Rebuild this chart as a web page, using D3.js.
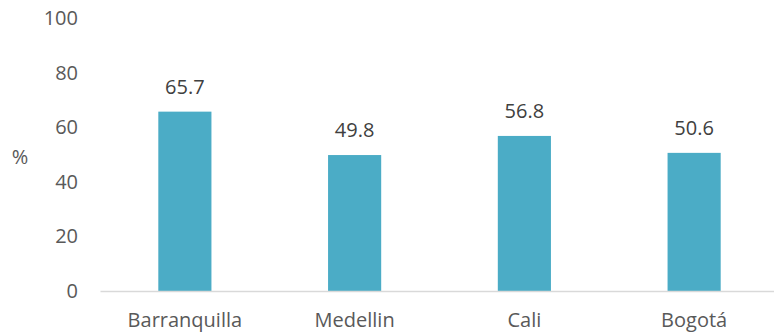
<!DOCTYPE html>
<html>
<head>
<meta charset="utf-8">
<script src="https://cdn.jsdelivr.net/npm/d3@7"></script>
<style>
    body { margin: 0; background: #fff; }
    svg text { font-family: "Open Sans", sans-serif; }
</style>
</head>
<body>
<svg id="chart" width="774" height="333"></svg>
<script>
const cities = ["Barranquilla", "Medellin", "Cali", "Bogotá"];
const values = [65.7, 49.8, 56.8, 50.6];
const yTicks = [0, 20, 40, 60, 80, 100];

var svg = d3.select("svg#chart");

// plot area (right side runs a bit past the window, as in the picture)
var x = d3.scaleBand()
    .domain(cities)
    .range([100, 779])
    .paddingInner(0.687)
    .paddingOuter(0.3435);

var y = d3.scaleLinear()
    .domain([0, 100])
    .range([291, 18]);

// y tick labels, no axis line
svg.append("g")
    .selectAll("text")
    .data(yTicks)
    .enter()
    .append("text")
    .attr("x", 78)
    .attr("y", d => y(d))
    .attr("dy", "0.35em")
    .attr("text-anchor", "end")
    .style("font-size", "20px")
    .style("fill", "#595959")
    .text(d => d);

svg.append("text")
    .attr("x", 20)
    .attr("y", 157)
    .attr("dy", "0.35em")
    .attr("text-anchor", "middle")
    .style("font-size", "20px")
    .style("fill", "#595959")
    .text("%");

// bars
svg.append("g")
    .selectAll("rect")
    .data(values)
    .enter()
    .append("rect")
    .attr("x", (d, i) => x(cities[i]))
    .attr("y", d => y(d))
    .attr("width", x.bandwidth())
    .attr("height", d => y(0) - y(d))
    .attr("fill", "#4BACC6");

// bottom axis
let xAxis = d3.axisBottom(x).tickSize(0).tickPadding(22);
let axisG = svg.append("g")
    .attr("transform", "translate(0," + y(0) + ")")
    .call(xAxis);
axisG.select(".domain").attr("stroke", "#D9D9D9").attr("stroke-width", 1.5);
axisG.selectAll("text")
    .style("font-size", "20px")
    .style("font-family", "Open Sans, sans-serif")
    .style("fill", "#595959");

// value labels
svg.append("g")
    .selectAll("text")
    .data(values)
    .enter()
    .append("text")
    .attr("x", (d, i) => x(cities[i]) + x.bandwidth() / 2)
    .attr("y", d => y(d) - 18)
    .attr("text-anchor", "middle")
    .style("font-size", "20px")
    .style("fill", "#404040")
    .text(d => d.toFixed(1));
</script>
</body>
</html>
